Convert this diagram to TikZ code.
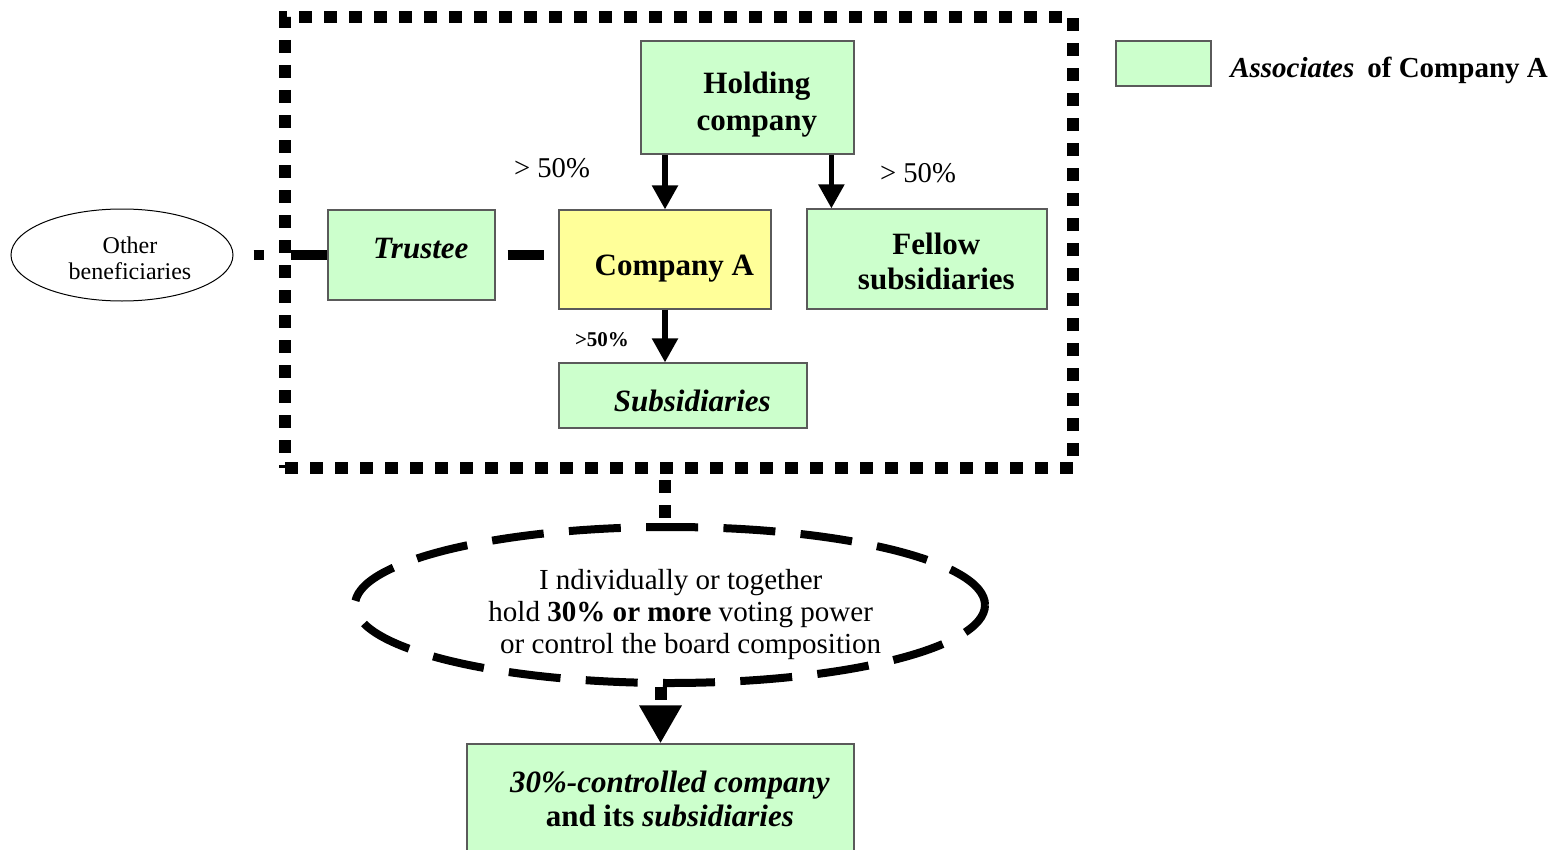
\documentclass[tikz,border=0pt]{standalone}
\usepackage{fontspec}
\setmainfont{Liberation Serif}
\usetikzlibrary{arrows.meta,shapes.geometric,fit,calc}
\definecolor{assocgreen}{HTML}{CCFFCC}
\definecolor{coyellow}{HTML}{FFFF99}
\definecolor{boxedge}{HTML}{5A5A5A}
\begin{document}
\begin{tikzpicture}[x=0.75pt,y=-0.75pt,
  box/.style={draw=boxedge, line width=0.9pt, fill=assocgreen, inner sep=0pt},
  yellowbox/.style={box, fill=coyellow},
  btext/.style={inner sep=0pt, align=center, xshift=7pt,
    font=\fontsize{23.25}{27.75}\selectfont\bfseries},
  groupline/.style={line width=9pt, dash pattern=on 9.75pt off 9pt},
  ownarrow/.style={line width=4pt, -{Triangle[width=18.75pt,length=18pt]}},
  trustlink/.style={line width=7.5pt},
  pct/.style={font=\fontsize{21.5}{24}\selectfont},
]
\useasboundingbox (0,0) rectangle (1566,849);

% group of associates
\node[groupline, draw, fit={(285,17) (1073,468)}, inner sep=0pt] (group) {};

% boxes
\node[box, fit={(641,41) (854,154)},
  label={[btext, yshift=-5pt]center:{Holding\\company}}] (holding) {};
\node[yellowbox, fit={(559,210) (771,309)},
  label={[btext, yshift=-7pt]center:{Company A}}] (compA) {};
\node[box, fit={(328,210) (495,300)},
  label={[btext, yshift=5pt]center:{\itshape Trustee}}] (trustee) {};
\node[box, fit={(807,209) (1047,309)},
  label={[btext, yshift=-2pt, font=\fontsize{23.25}{26.25}\selectfont\bfseries]center:{Fellow\\subsidiaries}}] (fellow) {};
\node[box, fit={(559,363) (807,428)},
  label={[btext, yshift=-4pt]center:{\itshape Subsidiaries}}] (subs) {};
\node[box, fit={(467,744) (854,858)},
  label={[btext, yshift=1.5pt, font=\fontsize{23.25}{25.5}\selectfont\bfseries]center:{\itshape 30\%-controlled company\\and its \textit{subsidiaries}}}] (bottom) {};

% legend
\node[box, fit={(1116,41) (1211,86)}] (legendbox) {};
\node[anchor=west, inner sep=0pt, font=\fontsize{21.75}{24}\selectfont\bfseries] (legendtext) at (1230,70)
  {\textit{Associates}\hspace{0.45em}of Company A};

% other beneficiaries
\node[draw, ellipse, line width=0.75pt, minimum width=166.5pt, minimum height=69pt, inner sep=0pt,
  label={[inner sep=0pt, align=center, xshift=6pt, yshift=-2.5pt, font=\fontsize{18}{19.5}\selectfont]center:{Other\\beneficiaries}}]
  (ob) at (122,255) {};

% 30% threshold
\node[draw, ellipse, line width=6pt, dash pattern=on 39pt off 19pt, minimum width=472.5pt,
  minimum height=117pt, inner sep=0pt,
  label={[inner sep=0pt, align=center, xshift=8pt, yshift=-7pt, font=\fontsize{21.8}{24}\selectfont]center:{I ndividually or together\\hold \textbf{30\% or more} voting power\\\hspace*{15pt}or control the board composition}}]
  (dell) at (670,605) {};

% ownership arrows
\coordinate (fellowin) at ($(fellow.north west)+(25,0)$);
\draw[ownarrow] (holding.south -| compA.north) -- (compA.north);
\draw[ownarrow] (holding.south -| fellowin) -- (fellowin);
\draw[ownarrow] (compA.south) -- (compA.south |- subs.north);

% trustee links
\draw[trustlink, dash pattern=on 7.5pt off 20.25pt on 30pt off 15pt, dash phase=57.75pt] (ob.east) -- (trustee.west);
\draw[trustlink, shorten <=9pt, shorten >=10.5pt] (trustee.east) -- (trustee.east -| compA.west);

% group to threshold to 30%-controlled company
\draw[groupline, dash phase=14.25pt] (group.south -| compA.south) -- (compA.south |- dell.north);
\draw[groupline, -{Triangle[width=30pt,length=28.5pt]}] (bottom.north |- dell.south) -- (bottom.north);

% percentage labels
\node[pct] (pct1) at (552,168) {> 50\%};
\node[pct] (pct2) at (918,173) {> 50\%};
\node[font=\fontsize{15.75}{18}\selectfont\bfseries] (pct3) at (602,340) {>50\%};
\end{tikzpicture}
\end{document}
